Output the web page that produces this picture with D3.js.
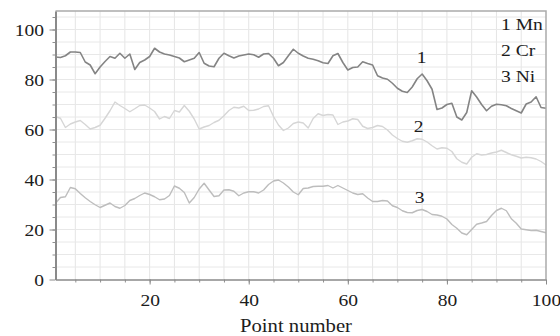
<!DOCTYPE html>
<html>
<head>
<meta charset="utf-8">
<script src="https://cdn.jsdelivr.net/npm/d3@7"></script>
<style>
body { margin: 0; background: #fff; }
svg text { font-family: "Liberation Serif", "Times New Roman", serif; fill: #1c1c1c; }
</style>
</head>
<body>
<svg id="chart" width="560" height="336"></svg>
<script>
// values (point number 1..100)
var mn = [89, 88.8, 89.5, 91, 91, 90.8, 87, 85.8, 82.3, 85,
    87.2, 89.2, 88.5, 90.5, 88.5, 90.2, 84, 86.8, 87.8, 89.2,
    92.5, 91, 90.2, 89.8, 89.2, 88.6, 87.1, 87.8, 88.5, 90.8,
    86.5, 85.4, 85.1, 88.5, 90.5, 89.5, 88.6, 89.4, 89.8, 90.2,
    89.9, 88.9, 90.2, 90.4, 88.5, 85.5, 86.8, 89.5, 92.1, 90.5,
    89.4, 88.5, 88.1, 87.5, 86.7, 86.4, 89.5, 90.4, 86.8, 83.8,
    84.8, 85, 87.1, 86.4, 85.8, 81.5, 80.6, 80.1, 78.5, 76.5,
    75.3, 74.8, 77, 80.3, 82.2, 79.5, 76.1, 68, 68.6, 70,
    70.5, 65, 63.8, 66.8, 75.5, 73, 70, 67.5, 69.3, 70.1,
    69.9, 69.5, 68.4, 67.5, 66.6, 70.2, 71, 73.1, 68.8, 68.5];

var cr = [65.1, 64.5, 60.8, 62.2, 63, 63.6, 62, 60.2, 60.8, 61.7,
    64.5, 67.5, 71, 69.6, 68.4, 67.1, 68.3, 69.6, 69.8, 68.6,
    67.2, 64.2, 65.2, 64.4, 67.6, 67, 69.6, 67.3, 64.2, 60.2,
    61, 61.6, 62.8, 63.7, 65.5, 67.6, 68.9, 68.6, 69.3, 67.6,
    67.7, 68.2, 69.2, 69.5, 65.2, 61.8, 59.6, 60.6, 62.4, 63,
    62.6, 60.6, 64.4, 66.3, 65.6, 66, 65.8, 62, 63, 63.4,
    64.3, 64, 61.3, 60.4, 60.8, 61.6, 61.2, 59.8, 57.8, 56.4,
    55.3, 54.9, 55.5, 56.3, 56.1, 55, 53.5, 52.2, 52.7, 52.5,
    51.2, 48.3, 46.9, 46.2, 48.9, 50.3, 49.8, 50, 50.6, 51,
    51.7, 50.8, 49.9, 49.3, 48.6, 48.9, 48.7, 48.2, 47.2, 45.8];

var ni = [30.5, 32.8, 33.1, 36.8, 36.3, 34.4, 32.7, 31.2, 29.9, 28.8,
    29.7, 30.6, 29.2, 28.5, 29.6, 31.6, 32.4, 33.6, 34.6, 34,
    33.1, 31.9, 32.2, 33.6, 37.4, 36.5, 34.8, 30.6, 32.8, 36.2,
    38.5, 35.8, 33.2, 33.5, 35.8, 35.9, 35.3, 33.5, 34.6, 35.1,
    35.1, 34.6, 35.8, 38, 39.4, 39.8, 38.6, 37, 35, 33.9,
    36.4, 36.6, 37.2, 37.3, 37.3, 37.6, 36.6, 37.6, 36.6, 35.6,
    34.6, 34, 34.3, 32.6, 31.2, 31.2, 31.6, 31.4, 29.5, 28.8,
    27.5, 26.8, 26.7, 27.6, 28, 27.2, 26, 25.8, 25.3, 24.2,
    22, 20.5, 18.6, 17.9, 20, 22.1, 22.6, 23.2, 25.6, 27.6,
    28.5, 27.5, 24.3, 22.5, 20.2, 19.9, 19.6, 19.7, 19.2, 18.7];

var legendNames = ["1 Mn", "2 Cr", "3 Ni"];
var lineNumbers = ["1", "2", "3"];
var xTicks = [20, 40, 60, 80, 100];
var yTicks = [0, 20, 40, 60, 80, 100];
var xLabel = "Point number";

var svg = d3.select("#chart");
var plotLeft = 55.5, plotRight = 546, plotTop = 11, plotBottom = 279.5;
var stretch = 1.15; // the source picture is a bit wider than tall

var xScale = d3.scaleLinear().domain([1, 100]).range([plotLeft, plotRight]);
var yScale = d3.scaleLinear().domain([0, 107.4]).range([plotBottom, plotTop]);

// grid every 5 units
svg.append("g")
    .selectAll("line")
    .data(d3.range(5, 100, 5))
    .enter()
    .append("line")
    .attr("x1", function (d) { return xScale(d); })
    .attr("x2", function (d) { return xScale(d); })
    .attr("y1", plotTop)
    .attr("y2", plotBottom)
    .attr("stroke", "#e5e5e5")
    .attr("stroke-width", 1);

svg.append("g")
    .selectAll("line")
    .data(d3.range(5, 107, 5))
    .enter()
    .append("line")
    .attr("x1", plotLeft)
    .attr("x2", plotRight)
    .attr("y1", function (d) { return yScale(d); })
    .attr("y2", function (d) { return yScale(d); })
    .attr("stroke", "#e8e8e8")
    .attr("stroke-width", 1);

var line = d3.line()
    .x(function (d, i) { return xScale(i + 1); })
    .y(function (d) { return yScale(d); });

var lineData = [ni, cr, mn];
var lineColor = ["#bdbdbd", "#d6d6d6", "#848484"];
var lineWidth = [1.4, 1.4, 1.6];

svg.append("g")
    .selectAll("path")
    .data(lineData)
    .enter()
    .append("path")
    .attr("d", line)
    .attr("fill", "none")
    .attr("stroke", function (d, i) { return lineColor[i]; })
    .attr("stroke-width", function (d, i) { return lineWidth[i]; })
    .attr("stroke-linejoin", "round");

// frame top and right
svg.append("path")
    .attr("d", "M" + plotLeft + "," + plotTop + "H" + plotRight + "V" + plotBottom)
    .attr("fill", "none")
    .attr("stroke", "#ababab")
    .attr("stroke-width", 1.5);

// minor ticks
svg.append("g")
    .attr("transform", "translate(" + plotLeft + ",0)")
    .call(d3.axisLeft(yScale).tickValues(d3.range(5, 107, 5)).tickSize(3).tickSizeOuter(0).tickFormat(""))
    .call(function (g) { g.select(".domain").remove(); })
    .selectAll("line").attr("stroke", "#8f8f8f");

svg.append("g")
    .attr("transform", "translate(0," + plotBottom + ")")
    .call(d3.axisBottom(xScale).tickValues(d3.range(5, 100, 5)).tickSize(3).tickSizeOuter(0).tickFormat(""))
    .call(function (g) { g.select(".domain").remove(); })
    .selectAll("line").attr("stroke", "#8f8f8f");

// major axes
var yAxis = svg.append("g")
    .attr("transform", "translate(" + plotLeft + ",0)")
    .call(d3.axisLeft(yScale).tickValues(yTicks).tickSize(6).tickSizeOuter(0));

yAxis.select(".domain").attr("stroke", "#8a8a8a").attr("stroke-width", 2);
yAxis.selectAll("line").attr("stroke", "#8a8a8a");
yAxis.selectAll("text")
    .attr("x", -10)
    .attr("dy", "0.34em")
    .attr("font-size", 17)
    .attr("fill", "#1c1c1c")
    .attr("transform", "scale(" + stretch + ",1)");

var xAxis = svg.append("g")
    .attr("transform", "translate(0," + plotBottom + ")")
    .call(d3.axisBottom(xScale).tickValues(xTicks).tickSize(5).tickSizeOuter(0));

xAxis.select(".domain").attr("stroke", "#8a8a8a").attr("stroke-width", 1.5);
xAxis.selectAll("line").attr("stroke", "#8a8a8a");
xAxis.selectAll("text")
    .attr("y", 26.5)
    .attr("dy", 0)
    .attr("font-size", 17)
    .attr("fill", "#1c1c1c")
    .attr("transform", "scale(" + stretch + ",1)");

svg.append("text")
    .attr("text-anchor", "middle")
    .attr("font-size", 18)
    .attr("transform", "translate(296,332) scale(" + stretch + ",1)")
    .text(xLabel);

// legend in the top right corner
svg.selectAll(".legend")
    .data(legendNames)
    .enter()
    .append("text")
    .attr("class", "legend")
    .attr("font-size", 17)
    .attr("transform", function (d, i) {
        return "translate(501," + (30 + i * 25.8) + ") scale(" + stretch + ",1)";
    })
    .text(function (d) { return d; });

// numbers next to the curves
var numberAt = [[74.9, 86.6], [74.3, 59.1], [74.5, 30.8]];

svg.selectAll(".num")
    .data(lineNumbers)
    .enter()
    .append("text")
    .attr("class", "num")
    .attr("text-anchor", "middle")
    .attr("font-size", 17)
    .attr("transform", function (d, i) {
        return "translate(" + xScale(numberAt[i][0]) + "," + yScale(numberAt[i][1]) + ") scale(" + stretch + ",1)";
    })
    .text(function (d) { return d; });
</script>
</body>
</html>
